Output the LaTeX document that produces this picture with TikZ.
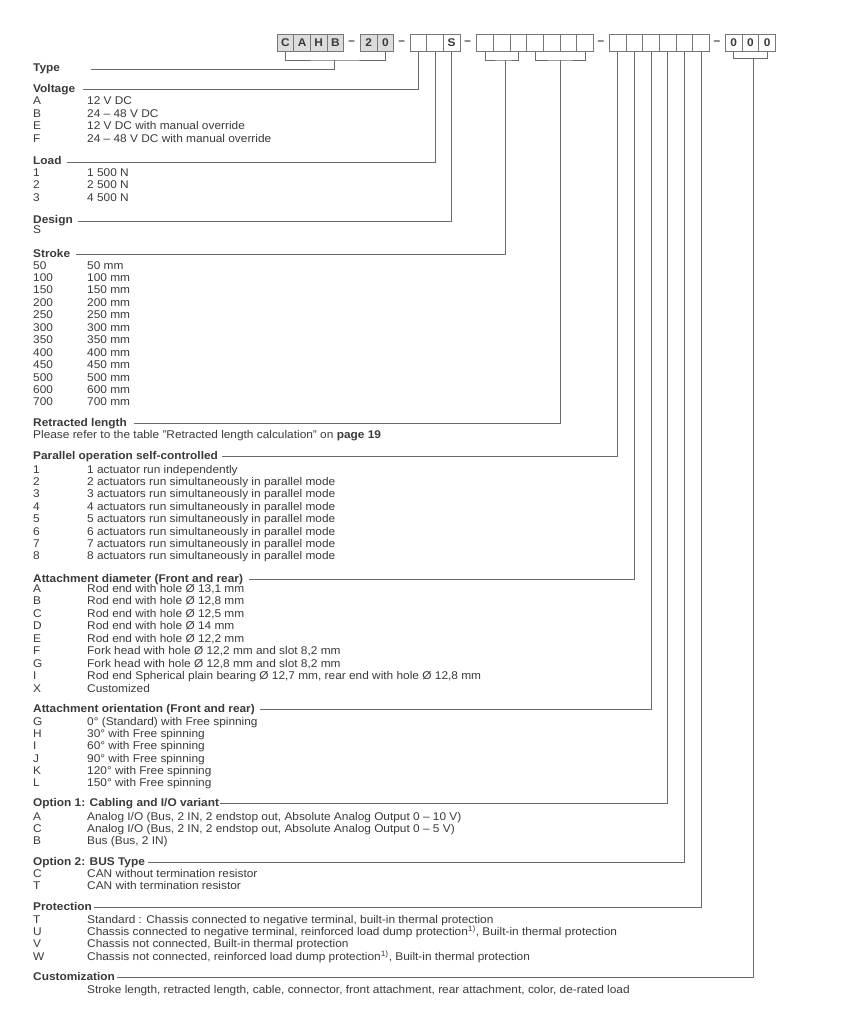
\documentclass[tikz,border=0pt]{standalone}
\usepackage{fontspec}
\setmainfont{Liberation Sans}[FakeStretch=1.06]
\definecolor{txt}{HTML}{3A3A3A}
\definecolor{linec}{HTML}{6A6A6A}
\definecolor{boxc}{HTML}{777777}
\definecolor{boxfill}{HTML}{DCDCDC}
\newcommand{\itemlist}[4]{% prefix, first y, spacing, list
  \foreach \k/\v [count=\i] in {#4} {
    \node[keytext] (#1k\i) at (33,{#2+#3*(\i-1)}) {\k};
    \node[valtext] (#1v\i) at (87,{#2+#3*(\i-1)}) {\v};
  }}
\begin{document}
\begin{tikzpicture}[x=1pt,y=-1pt,
  txtbase/.style={anchor=west, inner sep=0pt, text=txt, text height=8pt, text depth=0pt, font=\fontsize{11.2}{12}\selectfont},
  headtext/.style={txtbase, font=\fontsize{11.2}{12}\selectfont\bfseries},
  keytext/.style={txtbase},
  valtext/.style={txtbase},
  codebox/.style={draw=boxc, line width=0.8pt, minimum width=16.67pt, minimum height=17pt, inner sep=0pt, anchor=north west, text=txt, font=\fontsize{11.2}{12}\selectfont\bfseries},
  graybox/.style={codebox, fill=boxfill},
  sep/.style={inner sep=0pt, text=txt, font=\fontsize{11.2}{12}\selectfont\bfseries},
  conn/.style={draw=linec, line width=0.8pt}]
\path[use as bounding box, fill=white] (0,0) rectangle (858,1024);

% ---- code boxes ----
\foreach \t [count=\i] in {C,A,H,B} \node[graybox] (b\i) at ({276.7+16.67*(\i-1)},34) {\t};
\node[sep] (d1) at (351.7,42.5) {–};
\node[graybox] (b5) at (360,34) {2};
\node[graybox] (b6) at (376.67,34) {0};
\node[sep] (d2) at (401.7,42.5) {–};
\node[codebox] (v1) at (409.5,34) {};
\node[codebox] (v2) at (426.17,34) {};
\node[codebox] (v3) at (442.83,34) {S};
\node[sep] (d3) at (467.6,42.5) {–};
\foreach \i in {1,...,7} \node[codebox] (s\i) at ({476.2+16.67*(\i-1)},34) {};
\node[sep] (d4) at (600.8,42.5) {–};
\foreach \i in {1,...,6} \node[codebox] (o\i) at ({609+16.67*(\i-1)},34) {};
\node[sep] (d5) at (717,42.5) {–};
\foreach \i in {1,2,3} \node[codebox] (c\i) at ({725+16.67*(\i-1)},34) {0};

% ---- bracket coordinates ----
\coordinate (typeB) at (334.5,60);
\coordinate (strokeB) at (505,60);
\coordinate (retrB) at (560.5,60);
\coordinate (custB) at (753,58.5);

\draw[conn] (b1.south) |- (typeB) -| (b6.south);
\draw[conn] (s1.south) |- (strokeB) -| (s3.south);
\draw[conn] (s4.south) |- (retrB) -| (s7.south);
\draw[conn] (c1.south) |- (custB) -| (c3.south);

% ---- headings ----
\node[headtext] (hType) at (33,68) {Type};
\node[headtext] (hVolt) at (33,88.3) {Voltage};
\node[headtext] (hLoad) at (33,161) {Load};
\node[headtext] (hDes) at (33,220) {Design};
\node[headtext] (hStr) at (33,253.3) {Stroke};
\node[headtext] (hRet) at (33,422) {Retracted length};
\node[headtext] (hPar) at (33,455) {Parallel operation self-controlled};
\node[headtext] (hDia) at (33,578) {Attachment diameter (Front and rear)};
\node[headtext] (hOri) at (33,708) {Attachment orientation (Front and rear)};
\node[headtext] (hOp1) at (33,802) {Option 1: Cabling and I/O variant};
\node[headtext] (hOp2) at (33,861.3) {Option 2: BUS Type};
\node[headtext] (hPro) at (33,906.7) {Protection};
\node[headtext] (hCus) at (33,976.7) {Customization};

% ---- items ----
\itemlist{volt}{101}{12.4}{A/12 V DC, B/24 – 48 V DC, E/12 V DC with manual override, F/24 – 48 V DC with manual override}
\itemlist{load}{172.3}{12.4}{1/1 500 N, 2/2 500 N, 3/4 500 N}
\node[keytext] (desk1) at (33,229.5) {S};
\itemlist{str}{265}{12.45}{50/50 mm, 100/100 mm, 150/150 mm, 200/200 mm, 250/250 mm, 300/300 mm, 350/350 mm, 400/400 mm, 450/450 mm, 500/500 mm, 600/600 mm, 700/700 mm}
\node[valtext] (retv1) at (33,434.5) {Please refer to the table "Retracted length calculation" on \textbf{page 19}};
\itemlist{par}{469}{12.4}{1/1 actuator run independently, 2/2 actuators run simultaneously in parallel mode, 3/3 actuators run simultaneously in parallel mode, 4/4 actuators run simultaneously in parallel mode, 5/5 actuators run simultaneously in parallel mode, 6/6 actuators run simultaneously in parallel mode, 7/7 actuators run simultaneously in parallel mode, 8/8 actuators run simultaneously in parallel mode}
\itemlist{dia}{588.5}{12.45}{A/{Rod end with hole Ø 13,1 mm}, B/{Rod end with hole Ø 12,8 mm}, C/{Rod end with hole Ø 12,5 mm}, D/{Rod end with hole Ø 14 mm}, E/{Rod end with hole Ø 12,2 mm}, F/{Fork head with hole Ø 12,2 mm and slot 8,2 mm}, G/{Fork head with hole Ø 12,8 mm and slot 8,2 mm}, I/{Rod end Spherical plain bearing Ø 12,7 mm, rear end with hole Ø 12,8 mm}, X/Customized}
\itemlist{ori}{721.3}{12.3}{G/0° (Standard) with Free spinning, H/30° with Free spinning, I/60° with Free spinning, J/90° with Free spinning, K/120° with Free spinning, L/150° with Free spinning}
\itemlist{op1}{816}{12.35}{A/{Analog I/O (Bus, 2 IN, 2 endstop out, Absolute Analog Output 0 – 10 V)}, C/{Analog I/O (Bus, 2 IN, 2 endstop out, Absolute Analog Output 0 – 5 V)}, B/{Bus (Bus, 2 IN)}}
\itemlist{op2}{873.5}{12.4}{C/CAN without termination resistor, T/CAN with termination resistor}
\itemlist{pro}{919.3}{12.25}{T/{Standard : Chassis connected to negative terminal, built-in thermal protection}, U/{Chassis connected to negative terminal, reinforced load dump protection\textsuperscript{1)}, Built-in thermal protection}, V/{Chassis not connected, Built-in thermal protection}, W/{Chassis not connected, reinforced load dump protection\textsuperscript{1)}, Built-in thermal protection}}
\node[valtext] (cusv1) at (87,989) {Stroke length, retracted length, cable, connector, front attachment, rear attachment, color, de-rated load};

% ---- connectors ----
\draw[conn] ([shift={(31,1)}]hType.east) -| (typeB);
\draw[conn] ([shift={(8,1)}]hVolt.east) -| (v1.south);
\draw[conn] ([shift={(5,1)}]hLoad.east) -| (v2.south);
\draw[conn] ([shift={(5,1)}]hDes.east) -| (v3.south);
\draw[conn] ([shift={(6,1)}]hStr.east) -| (strokeB);
\draw[conn] ([shift={(7,1)}]hRet.east) -| (retrB);
\draw[conn] ([shift={(4,1)}]hPar.east) -| (o1.south);
\draw[conn] ([shift={(6,1)}]hDia.east) -| (o2.south);
\draw[conn] ([shift={(4.5,1)}]hOri.east) -| (o3.south);
\draw[conn] ([shift={(1,1)}]hOp1.east) -| (o4.south);
\draw[conn] ([shift={(2.5,1)}]hOp2.east) -| (o5.south);
\draw[conn] ([shift={(2,1)}]hPro.east) -| (o6.south);
\draw[conn] ([shift={(1.5,1)}]hCus.east) -| (custB);
\end{tikzpicture}
\end{document}
